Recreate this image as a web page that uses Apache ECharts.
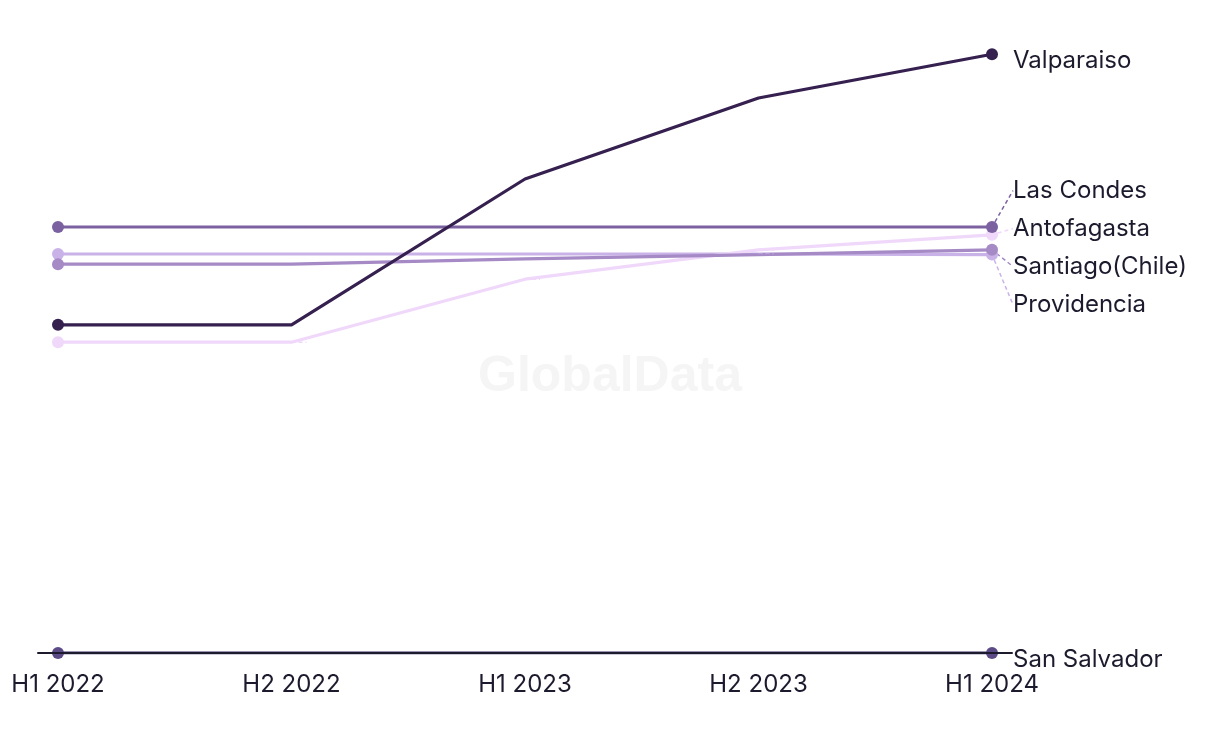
<!DOCTYPE html>
<html>
<head>
<meta charset="utf-8">
<script src="https://cdn.jsdelivr.net/npm/echarts@6/dist/echarts.min.js"></script>
<style>html,body{margin:0;padding:0;background:#fff}#c{width:1220px;height:744px}</style>
</head>
<body>
<div id="c"></div>
<script>
const categories = ['H1 2022', 'H2 2022', 'H1 2023', 'H2 2023', 'H1 2024'];
const valparaiso = [54.7, 54.7, 79.0, 92.5, 99.8];
const lasCondes = [71.0, 71.0, 71.0, 71.0, 71.0];
const antofagasta = [51.8, 51.8, 62.3, 67.2, 69.7];
const santiago = [64.8, 64.8, 65.7, 66.4, 67.2];
const providencia = [66.5, 66.5, 66.5, 66.5, 66.4];
const sanSalvador = [0, 0, 0, 0, 0];

const seriesDefs = [
  { name: 'San Salvador', data: sanSalvador, color: '#5b4a86', line: '#3e2f63', leader: false },
  { name: 'Providencia', data: providencia, color: '#c9b2e8', line: '#c9b2e8', leader: true },
  { name: 'Antofagasta', data: antofagasta, color: '#f0d8fb', line: '#f0d8fb', leader: true },
  { name: 'Santiago(Chile)', data: santiago, color: '#a58ac6', line: '#a58ac6', leader: true },
  { name: 'Las Condes', data: lasCondes, color: '#7b61a0', line: '#7b61a0', leader: true },
  { name: 'Valparaiso', data: valparaiso, color: '#35204f', line: '#35204f', leader: false }
];

const FONT = 'Inter, "Noto Sans", sans-serif';
const TEXT = '#1c1b2e';
const last = categories.length - 1;
const LABEL_GAP = 38;

const chart = echarts.init(document.getElementById('c'), null, { renderer: 'canvas' });

function buildSeries(targets) {
  return seriesDefs.map(function (s) {
    const t = targets ? targets[s.name] : undefined;
    return {
      name: s.name,
      type: 'line',
      xAxisIndex: 0,
      yAxisIndex: 0,
      data: s.data,
      symbol: 'circle',
      showAllSymbol: true,
      symbolSize: function (v, p) { return (p.dataIndex === 0 || p.dataIndex === last) ? 12 : 0; },
      lineStyle: { color: s.line, width: 3.2 },
      itemStyle: { color: s.color },
      emphasis: { disabled: true },
      label: {
        show: true,
        formatter: function (p) { return p.dataIndex === last ? s.name : ''; },
        position: 'right',
        distance: 15,
        fontFamily: FONT,
        fontSize: 24,
        color: TEXT,
        offset: [0, 7]
      },
      labelLine: s.leader ? { show: true, length2: 0, lineStyle: { color: s.color, type: [4, 3], width: 1.5 } } : { show: false },
      labelLayout: (t !== undefined) ? function (p) {
        if (p.dataIndex !== last) return {};
        return { y: t, verticalAlign: 'middle' };
      } : null,
      z: 2
    };
  });
}

chart.setOption({
  animation: false,
  backgroundColor: '#ffffff',
  graphic: [{
    type: 'text',
    left: 'center',
    top: 352,
    style: { text: 'GlobalData', font: 'bold 50px "Liberation Sans", Arial, sans-serif', fill: '#f5f5f5' },
    z: 0
  }],
  grid: [
    { left: 58, right: 228, top: 53, bottom: 91 },
    { left: 38, right: 208, top: 53, bottom: 91 }
  ],
  xAxis: [
    {
      type: 'category', gridIndex: 0, data: categories, boundaryGap: false,
      axisLine: { show: false }, axisTick: { show: false }, splitLine: { show: false },
      axisLabel: { fontFamily: FONT, fontSize: 24, color: TEXT, margin: 20 }
    },
    {
      type: 'value', gridIndex: 1, min: 0, max: 1, z: 5,
      axisLine: { show: true, lineStyle: { color: '#1c1b2e', width: 2 } },
      axisTick: { show: false }, axisLabel: { show: false }, splitLine: { show: false }
    }
  ],
  yAxis: [
    { type: 'value', gridIndex: 0, min: 0, max: 100, show: false, splitLine: { show: false } },
    { type: 'value', gridIndex: 1, min: 0, max: 100, show: false, splitLine: { show: false } }
  ],
  series: buildSeries(null)
});

// Spread clustered end labels evenly around the mean of their end points.
const leaders = seriesDefs.filter(function (s) { return s.leader; }).map(function (s) {
  return { name: s.name, py: chart.convertToPixel({ gridIndex: 0 }, [last, s.data[last]])[1] };
});
leaders.sort(function (a, b) { return a.py - b.py; });
const meanY = leaders.reduce(function (acc, l) { return acc + l.py; }, 0) / leaders.length;
const targets = {};
leaders.forEach(function (l, k) {
  targets[l.name] = meanY + (k - (leaders.length - 1) / 2) * LABEL_GAP + 6;
});
chart.setOption({ series: buildSeries(targets) });
</script>
</body>
</html>
